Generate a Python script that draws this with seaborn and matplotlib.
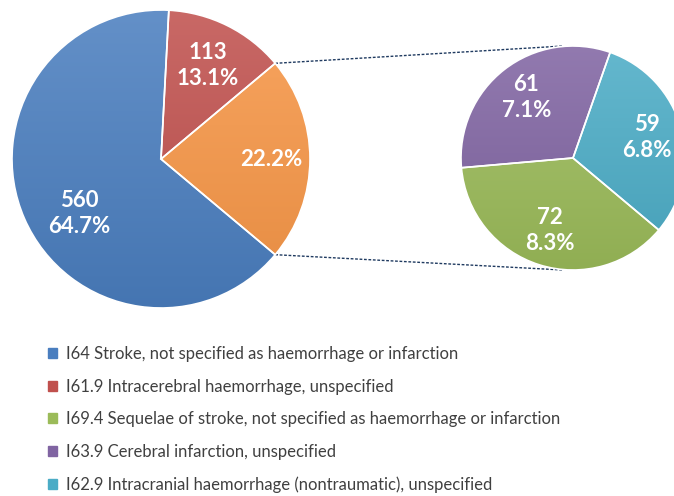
import numpy as np
import matplotlib.pyplot as plt
import matplotlib.colors as mcolors
from matplotlib.patches import Patch
import seaborn as sns

# data
main_labels = ["I64 Stroke, not specified as haemorrhage or infarction",
               "I61.9 Intracerebral haemorrhage, unspecified"]
main_counts = [560, 113]
other_labels = ["I69.4 Sequelae of stroke, not specified as haemorrhage or infarction",
                "I63.9 Cerebral infarction, unspecified",
                "I62.9 Intracranial haemorrhage (nontraumatic), unspecified"]
other_counts = [72, 61, 59]

main_colors = ["#4a7ebf", "#c0504d"]
other_color = "#f79646"
sub_colors = ["#9bbb59", "#8064a2", "#4bacc6"]

sns.set_theme(style="white")
plt.rcParams["font.family"] = ["Lato", "DejaVu Sans"]

total = sum(main_counts) + sum(other_counts)
other_total = sum(other_counts)

fig = plt.figure(figsize=(6.74, 4.96), dpi=100)
ax = fig.add_axes([0, 0, 1, 1])

big_c, big_r = (161, 337), 149
small_c, small_r = (573, 338), 112


def shade(wedges, colors, center, radius):
    # vertical gradient clipped to each wedge, lighter on top
    for w, col in zip(wedges, colors):
        rgb = np.array(mcolors.to_rgb(col))
        top = rgb + (1 - rgb) * 0.14
        bot = rgb * 0.93
        t = np.linspace(0, 1, 256)[:, None]
        grad = top * (1 - t) + bot * t
        img = np.repeat(grad[:, None, :], 2, axis=1)
        im = ax.imshow(img, extent=[center[0] - radius, center[0] + radius,
                                    center[1] - radius, center[1] + radius],
                       origin="upper", aspect="auto", zorder=1)
        im.set_clip_path(w)


def put_labels(wedges, counts, frac, show_count, shift=0):
    for w, n in zip(wedges, counts):
        mid = np.deg2rad((w.theta1 + w.theta2) / 2 + shift)
        x = w.center[0] + frac * w.r * np.cos(mid)
        y = w.center[1] + frac * w.r * np.sin(mid)
        txt = f"{n / total * 100:.1f}%"
        if show_count:
            txt = f"{n}\n" + txt
        ax.text(x, y, txt, ha="center", va="center", color="white",
                fontsize=16, fontweight="bold", linespacing=1.3, zorder=5)


# main pie: "other" wedge centred on the right
big_vals = [other_total, main_counts[1], main_counts[0]]
big_cols = [other_color, main_colors[1], main_colors[0]]
start = -other_total / total * 180
wedges_big, _ = ax.pie(big_vals, colors=big_cols, startangle=start, center=big_c,
                       radius=big_r, frame=True,
                       wedgeprops=dict(edgecolor="white", linewidth=1.2, zorder=2))
for w in wedges_big:
    w.set_facecolor("none")
shade(wedges_big, big_cols, big_c, big_r)
put_labels(wedges_big[1:2], [main_counts[1]], 0.70, True)
put_labels(wedges_big[2:], [main_counts[0]], 0.66, True, shift=10)
put_labels(wedges_big[:1], [other_total], 0.74, False)

# secondary pie
sub_vals = [other_counts[2], other_counts[1], other_counts[0]]
sub_cols = [sub_colors[2], sub_colors[1], sub_colors[0]]
wedges_small, _ = ax.pie(sub_vals, colors=sub_cols, startangle=-40, center=small_c,
                         radius=small_r, frame=True,
                         wedgeprops=dict(edgecolor="white", linewidth=1.2, zorder=2))
for w in wedges_small:
    w.set_facecolor("none")
shade(wedges_small, sub_cols, small_c, small_r)
put_labels(wedges_small, sub_vals, 0.68, True)

ax.set_xlim(0, 674)
ax.set_ylim(0, 496)
ax.set_aspect("equal")
ax.axis("off")

# connector lines
ow = wedges_big[0]
for ang, ty in [(ow.theta2, small_c[1] + small_r), (ow.theta1, small_c[1] - small_r)]:
    a = np.deg2rad(ang)
    x0 = big_c[0] + big_r * np.cos(a)
    y0 = big_c[1] + big_r * np.sin(a)
    ax.plot([x0, small_c[0] - 10], [y0, ty], color="#1f3a60", lw=1.0,
            ls=(0, (2, 1.2)), zorder=0)

# legend
handles = [Patch(color=c) for c in main_colors + sub_colors]
fig.legend(handles, main_labels + other_labels, loc="upper left",
           bbox_to_anchor=(48 / 674, 1 - 346 / 496), frameon=False,
           fontsize=12, labelcolor="#404040", handlelength=0.55, handleheight=0.55,
           handletextpad=0.55, labelspacing=1.0, borderaxespad=0, borderpad=0)

fig.savefig("out.png", dpi=100)
